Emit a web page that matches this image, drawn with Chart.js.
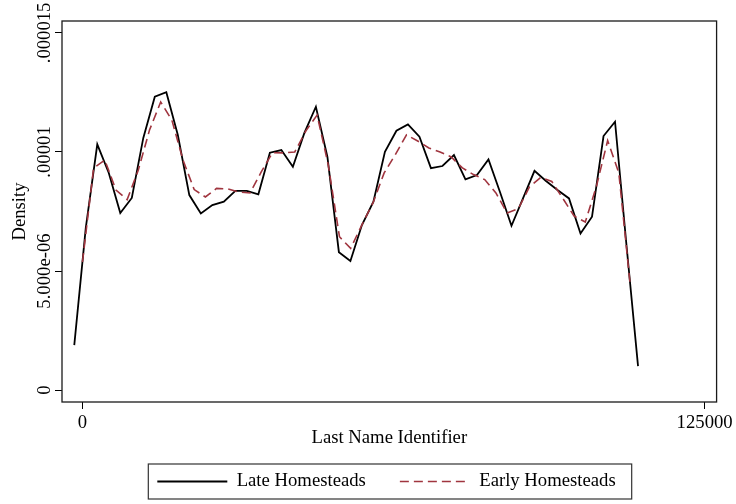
<!DOCTYPE html>
<html>
<head>
<meta charset="utf-8">
<script src="https://cdn.jsdelivr.net/npm/chart.js@4.4.1/dist/chart.umd.min.js"></script>
<style>
  html, body { margin: 0; padding: 0; background: #fff; }
</style>
</head>
<body>
<canvas id="density-chart" width="736" height="504"></canvas>
<script>
/* DATA */

// Late homesteads: kdensity grid (last name identifier) and density
const lateX = [-1644, 668, 2979, 5291, 7602, 9914, 12225, 14537, 16848, 19160,
    21471, 23783, 26094, 28406, 30717, 33029, 35340, 37652, 39963, 42275,
    44586, 46898, 49209, 51521, 53832, 56144, 58455, 60767, 63078, 65390,
    67701, 70013, 72324, 74636, 76947, 79259, 81570, 83882, 86193, 88505,
    90816, 93128, 95439, 97751, 100062, 102374, 104685, 106997, 109308, 111620];
const lateY = [1.89e-6, 6.81e-6, 10.32e-6, 9.12e-6, 7.44e-6, 8.07e-6, 10.59e-6, 12.32e-6, 12.51e-6, 10.71e-6,
    8.19e-6, 7.42e-6, 7.77e-6, 7.91e-6, 8.37e-6, 8.37e-6, 8.22e-6, 9.97e-6, 10.08e-6, 9.38e-6,
    10.80e-6, 11.90e-6, 9.80e-6, 5.79e-6, 5.42e-6, 6.93e-6, 7.91e-6, 10.01e-6, 10.89e-6, 11.16e-6,
    10.64e-6, 9.32e-6, 9.41e-6, 9.87e-6, 8.85e-6, 9.03e-6, 9.69e-6, 8.32e-6, 6.90e-6, 8.05e-6,
    9.21e-6, 8.78e-6, 8.40e-6, 8.05e-6, 6.58e-6, 7.28e-6, 10.67e-6, 11.27e-6, 6.06e-6, 1.01e-6];

// Early homesteads
const earlyX = [0, 2245, 4490, 6735, 8980, 11225, 13470, 15715, 17960, 20205,
    22450, 24695, 26940, 29185, 31430, 33675, 35920, 38165, 40410, 42655,
    44900, 47145, 49390, 51635, 53880, 56125, 58370, 60615, 62860, 65105,
    67350, 69595, 71840, 74085, 76330, 78575, 80820, 83065, 85310, 87555,
    89800, 92045, 94290, 96535, 98780, 101025, 103270, 105515, 107760, 110005];
const earlyY = [5.38e-6, 9.33e-6, 9.66e-6, 8.40e-6, 8.00e-6, 9.24e-6, 10.92e-6, 12.10e-6, 11.34e-6, 9.66e-6,
    8.42e-6, 8.11e-6, 8.47e-6, 8.45e-6, 8.32e-6, 8.28e-6, 9.16e-6, 9.97e-6, 9.96e-6, 10.00e-6,
    10.89e-6, 11.55e-6, 9.45e-6, 6.44e-6, 5.95e-6, 6.93e-6, 7.86e-6, 9.12e-6, 9.89e-6, 10.72e-6,
    10.46e-6, 10.17e-6, 10.00e-6, 9.79e-6, 9.33e-6, 9.05e-6, 8.84e-6, 8.28e-6, 7.44e-6, 7.61e-6,
    8.53e-6, 8.93e-6, 8.76e-6, 8.04e-6, 7.31e-6, 7.06e-6, 8.57e-6, 10.48e-6, 9.12e-6, 4.50e-6];

const seriesNames = ["Late Homesteads", "Early Homesteads"];

const xTicks = [0, 125000];
const xTickLabels = ["0", "125000"];
const yTicks = [0, 0.000005, 0.00001, 0.000015];
const yTickLabels = ["0", "5.000e-06", ".00001", ".000015"];

/* LAYOUT */

const FONT = "'Liberation Serif', 'Times New Roman', serif";
const FONT_SIZE = 18.7;

Chart.defaults.font.family = FONT;
Chart.defaults.font.size = FONT_SIZE;
Chart.defaults.color = '#000';

function toPoints(xs, ys) {
    return xs.map(function (x, i) { return { x: x, y: ys[i] }; });
}

// legend samples should look like the lines (dash + width of the dataset)
function lineLegendLabels(chart) {
    const items = Chart.defaults.plugins.legend.labels.generateLabels(chart);
    items.forEach(function (it) {
        const ds = chart.data.datasets[it.datasetIndex];
        it.lineDash = ds.borderDash || [];
        it.lineWidth = ds.borderWidth;
        it.strokeStyle = ds.borderColor;
    });
    return items;
}

// frame round the plot, stata style rotated y labels, box round the legend
const stataBits = {
    id: 'stataBits',
    afterLayout(chart) {
        // center legend entries under the plot
        const lg = chart.legend;
        const shift = 386.5 - (lg.left + lg.right) / 2;
        lg.left += shift;
        lg.right += shift;
    },
    afterDraw(chart) {
        const ctx = chart.ctx;
        const a = chart.chartArea;
        const y = chart.scales.y;
        ctx.save();
        ctx.strokeStyle = '#1a1a1a';
        ctx.lineWidth = 1.3;
        ctx.strokeRect(a.left, a.top, a.right - a.left, a.bottom - a.top);

        ctx.fillStyle = '#000';
        ctx.font = FONT_SIZE + 'px ' + FONT;
        ctx.textAlign = 'center';
        ctx.textBaseline = 'alphabetic';
        y.ticks.forEach(function (t, i) {
            ctx.save();
            ctx.translate(49.5, y.getPixelForValue(t.value));
            ctx.rotate(-Math.PI / 2);
            ctx.fillText(yTickLabels[i], 0, 0);
            ctx.restore();
        });

        const hb = chart.legend.legendHitBoxes;
        if (hb && hb.length) {
            const left = Math.min.apply(null, hb.map(h => h.left));
            const right = Math.max.apply(null, hb.map(h => h.left + h.width));
            const cy = hb[0].top + hb[0].height / 2;
            ctx.lineWidth = 1.2;
            ctx.strokeStyle = '#333';
            ctx.strokeRect(left - 9, cy - 17.5, right - left + 25, 35);
        }
        ctx.restore();
    }
};

let densityCanvas = document.getElementById("density-chart").getContext("2d");
var densityChart = new Chart(densityCanvas, {
    type: 'line',
    data: {
        datasets: [
            {
                label: seriesNames[0],
                data: toPoints(lateX, lateY),
                borderColor: '#000000',
                backgroundColor: 'rgba(0,0,0,0)',
                borderWidth: 1.8,
                pointRadius: 0,
                tension: 0,
                order: 2
            },
            {
                label: seriesNames[1],
                data: toPoints(earlyX, earlyY),
                borderColor: '#a0353f',
                backgroundColor: 'rgba(0,0,0,0)',
                borderWidth: 1.6,
                borderDash: [9, 5],
                pointRadius: 0,
                tension: 0,
                order: 1
            }
        ]
    },
    options: {
        responsive: false,
        animation: false,
        events: [],
        layout: { padding: { top: 21, right: 18, bottom: 3.15, left: 0 } },
        plugins: {
            tooltip: { enabled: false },
            legend: {
                position: 'bottom',
                labels: {
                    usePointStyle: true,
                    pointStyle: 'line',
                    pointStyleWidth: 70,
                    boxWidth: 70,
                    boxHeight: 10,
                    padding: 34,
                    color: '#000',
                    font: { size: FONT_SIZE },
                    generateLabels: lineLegendLabels,
                    sort: (a, b) => a.datasetIndex - b.datasetIndex
                }
            }
        },
        scales: {
            x: {
                type: 'linear',
                min: -4110,
                max: 127400,
                afterBuildTicks: (s) => { s.ticks = xTicks.map(v => ({ value: v })); },
                afterFit: (s) => { s.height = 36.15; },
                ticks: {
                    padding: 3,
                    maxRotation: 0,
                    autoSkip: false,
                    color: '#000',
                    callback: (v, i) => xTickLabels[i]
                },
                grid: { drawOnChartArea: false, drawTicks: true, tickLength: 7, color: '#000', lineWidth: 1 },
                border: { display: false },
                title: { display: true, text: 'Last Name Identifier', color: '#000', padding: { top: 0, bottom: -11 } }
            },
            y: {
                type: 'linear',
                min: -0.0000005,
                max: 0.0000155,
                afterBuildTicks: (s) => { s.ticks = yTicks.map(v => ({ value: v })); },
                afterFit: (s) => { s.width = 62; },
                ticks: { display: false },
                grid: { drawOnChartArea: false, drawTicks: true, tickLength: 7, color: '#000', lineWidth: 1 },
                border: { display: false },
                title: { display: true, text: 'Density', color: '#000', padding: { top: 8.8, bottom: 0 } }
            }
        }
    },
    plugins: [stataBits]
});
</script>
</body>
</html>
